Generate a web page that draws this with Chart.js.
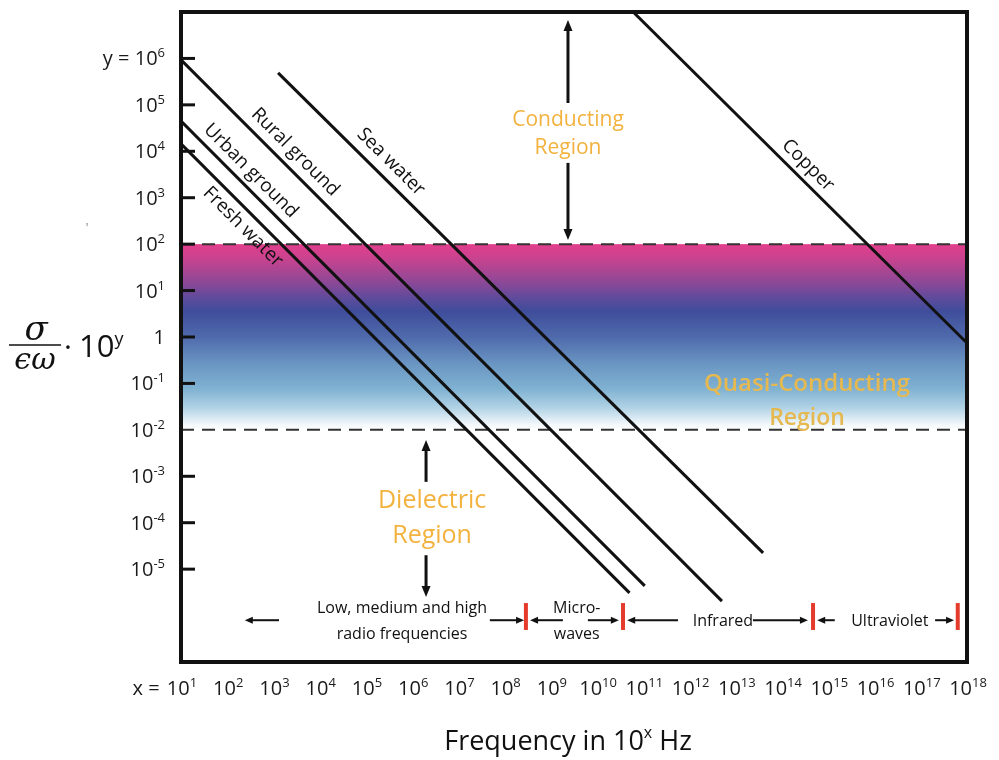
<!DOCTYPE html>
<html>
<head>
<meta charset="utf-8">
<script src="https://cdn.jsdelivr.net/npm/chart.js@4.4.1/dist/chart.umd.min.js"></script>
<style>
  html, body { margin: 0; padding: 0; background: #fff; }
  #wrap { width: 999px; height: 760px; }
</style>
</head>
<body>
<div id="wrap"><canvas id="chart" width="999" height="760"></canvas></div>
<script>
// ===============================
// DATA (exponents: x = log10 f, y = log10 sigma/eps*omega)
// ===============================
const xTickExp = [1, 2, 3, 4, 5, 6, 7, 8, 9, 10, 11, 12, 13, 14, 15, 16, 17, 18];
const yTickExp = [-5, -4, -3, -2, -1, 0, 1, 2, 3, 4, 5, 6];

const seriesNames = ['Copper', 'Sea water', 'Rural ground', 'Urban ground', 'Fresh water'];
const copperX = [10.78, 18];   const copperY = [7.0, -0.13];
const seaX    = [3.10, 13.59]; const seaY    = [5.69, -4.65];
const ruralX  = [1, 12.70];    const ruralY  = [5.97, -5.69];
const urbanX  = [1, 11.03];    const urbanY  = [4.65, -5.36];
const freshX  = [1, 10.70];    const freshY  = [4.16, -5.51];

const boundaryY = [2, -2]; // 10^2 and 10^-2

// ===============================
// STYLE
// ===============================
const FONT = '"Open Sans", "Noto Sans", sans-serif';
const ORANGE = '#f3b23e';
const bandStops = [
  [0, '#e23e8c'], [0.08, '#c8438f'], [0.2, '#8f4896'], [0.3, '#5a4b9c'],
  [0.36, '#3f4d9b'], [0.5, '#4f6aac'], [0.65, '#6b97c3'], [0.78, '#80b2d2'],
  [0.88, '#b0d2e5'], [0.97, '#f2f7fb'], [1, '#ffffff']
];

function pts(xs, ys) { return xs.map((v, i) => ({ x: v, y: ys[i] })); }

// draw text runs [text, font, dy] aligned left/center/right at (x, y baseline)
function runs(ctx, parts, x, y, align) {
  let w = 0;
  parts.forEach(p => { ctx.font = p[1]; w += ctx.measureText(p[0]).width; });
  let cx = align === 'center' ? x - w / 2 : align === 'right' ? x - w : x;
  ctx.textAlign = 'left';
  ctx.textBaseline = 'alphabetic';
  parts.forEach(p => {
    ctx.font = p[1];
    ctx.fillText(p[0], cx, y + (p[2] || 0));
    cx += ctx.measureText(p[0]).width;
  });
  return w;
}

function arrow(ctx, x1, y1, x2, y2, head, half, lw) {
  const ang = Math.atan2(y2 - y1, x2 - x1);
  ctx.lineWidth = lw;
  ctx.beginPath();
  ctx.moveTo(x1, y1);
  ctx.lineTo(x2 - Math.cos(ang) * head * 0.8, y2 - Math.sin(ang) * head * 0.8);
  ctx.stroke();
  ctx.beginPath();
  ctx.moveTo(x2, y2);
  ctx.lineTo(x2 - Math.cos(ang) * head - Math.sin(ang) * half, y2 - Math.sin(ang) * head + Math.cos(ang) * half);
  ctx.lineTo(x2 - Math.cos(ang) * head + Math.sin(ang) * half, y2 - Math.sin(ang) * head - Math.cos(ang) * half);
  ctx.closePath();
  ctx.fill();
}

// ===============================
// DECORATION PLUGIN
// ===============================
const deco = {
  id: 'deco',
  beforeDatasetsDraw(chart) {
    const { ctx, chartArea: a, scales: { y } } = chart;
    const top = y.getPixelForValue(boundaryY[0]);
    const bot = y.getPixelForValue(boundaryY[1]);
    const g = ctx.createLinearGradient(0, top, 0, bot);
    bandStops.forEach(s => g.addColorStop(s[0], s[1]));
    ctx.save();
    ctx.fillStyle = g;
    ctx.fillRect(a.left, top, a.right - a.left, bot - top);
    ctx.restore();
  },
  afterDatasetsDraw(chart) {
    const { ctx, chartArea: a, scales: { x, y } } = chart;
    const X = v => x.getPixelForValue(v);
    const Y = v => y.getPixelForValue(v);
    ctx.save();

    // frame
    ctx.strokeStyle = '#111';
    ctx.lineWidth = 4;
    ctx.strokeRect(a.left, a.top, a.right - a.left, a.bottom - a.top);

    // inner y ticks + labels
    ctx.fillStyle = '#1a1a1a';
    ctx.lineWidth = 3;
    y.ticks.forEach(t => {
      const py = Y(t.value);
      if (t.value !== -2) {
        ctx.beginPath(); ctx.moveTo(a.left, py); ctx.lineTo(a.left + 14, py); ctx.stroke();
      }
      const parts = t.value === 0 ? [['1', '20px ' + FONT]]
        : [['10', '20px ' + FONT], [String(t.value), '13px ' + FONT, -8]];
      const w = runs(ctx, parts, 165, py + 7, 'right');
      if (t.value === 6) runs(ctx, [['y = ', '20px ' + FONT]], 165 - w, py + 7, 'right');
    });

    // x tick labels
    x.ticks.forEach(t => {
      const px = X(t.value);
      const w = runs(ctx, [['10', '20px ' + FONT], [String(t.value), '13px ' + FONT, -8]], px + 1, 695, 'center');
      if (t.value === 1) runs(ctx, [['x = ', '20px ' + FONT]], px + 1 - w / 2 - 2, 695, 'right');
    });

    // axis titles
    ctx.fillStyle = '#111';
    runs(ctx, [['Frequency in 10', '27px ' + FONT], ['x', '16px ' + FONT, -12], [' Hz', '27px ' + FONT]], 568, 750, 'center');
    ctx.font = 'italic 34px "DejaVu Serif", serif';
    ctx.textAlign = 'center';
    ctx.fillText('\u03c3', 36, 340);
    ctx.font = 'italic 30px "DejaVu Serif", serif';
    ctx.fillText('\u03f5\u03c9', 35, 369);
    ctx.lineWidth = 1.5;
    ctx.beginPath(); ctx.moveTo(9, 345); ctx.lineTo(61, 345); ctx.stroke();
    runs(ctx, [['\u00b7', '30px ' + FONT]], 64, 357, 'left');
    runs(ctx, [['10', '31px ' + FONT], ['y', '18px ' + FONT, -12]], 79, 357, 'left');
    ctx.fillStyle = '#777';
    runs(ctx, [["'", '12px ' + FONT]], 87, 232, 'center');

    // region labels
    ctx.fillStyle = ORANGE;
    runs(ctx, [['Conducting', '21px ' + FONT]], X(9.37), Y(4.72) + 8, 'center');
    runs(ctx, [['Region', '21px ' + FONT]], X(9.37), Y(4.11) + 8, 'center');
    runs(ctx, [['Dielectric', '25px ' + FONT]], X(6.43), Y(-3.49) + 9, 'center');
    runs(ctx, [['Region', '25px ' + FONT]], X(6.43), Y(-4.24) + 9, 'center');
    ctx.fillStyle = '#e6b950';
    runs(ctx, [['Quasi-Conducting', '600 24px ' + FONT]], X(14.54), Y(-0.99) + 8, 'center');
    runs(ctx, [['Region', '600 23px ' + FONT]], X(14.54), Y(-1.72) + 8, 'center');

    // region arrows
    ctx.fillStyle = '#111';
    ctx.strokeStyle = '#111';
    arrow(ctx, X(9.37), Y(5.04), X(9.37), Y(6.83), 11, 4.5, 3);
    arrow(ctx, X(9.37), Y(3.75), X(9.37), Y(2.09), 11, 4.5, 3);
    arrow(ctx, X(6.30), Y(-3.12), X(6.30), Y(-2.22), 11, 4.5, 3);
    arrow(ctx, X(6.30), Y(-4.70), X(6.30), Y(-5.60), 11, 4.5, 3);

    // spectrum band
    const r1 = Y(-5.84) + 5, r2 = Y(-6.40) + 5, rm = Y(-6.10);
    ctx.fillStyle = '#111';
    runs(ctx, [['Low, medium and high', '16px ' + FONT]], X(5.78), r1, 'center');
    runs(ctx, [['radio frequencies', '16px ' + FONT]], X(5.78), r2, 'center');
    runs(ctx, [['Micro-', '16px ' + FONT]], X(9.56), r1, 'center');
    runs(ctx, [['waves', '16px ' + FONT]], X(9.56), r2, 'center');
    runs(ctx, [['Infrared', '16px ' + FONT]], X(12.72), rm + 6, 'center');
    runs(ctx, [['Ultraviolet', '16px ' + FONT]], X(16.33), rm + 6, 'center');
    [[3.12, 2.38], [7.68, 8.42], [9.26, 8.55], [9.80, 10.47], [11.75, 10.65],
     [13.37, 14.56], [15.14, 14.76], [17.31, 17.72]].forEach(s => arrow(ctx, X(s[0]), rm, X(s[1]), rm, 8, 3.5, 2));
    ctx.strokeStyle = '#e43b2c';
    ctx.lineWidth = 4;
    [8.46, 10.56, 14.67, 17.80].forEach(v => {
      ctx.beginPath(); ctx.moveTo(X(v), Y(-5.73)); ctx.lineTo(X(v), Y(-6.31)); ctx.stroke();
    });

    // series labels along lines
    const labelPos = [[14.56, 3.70], [5.54, 3.77], [3.47, 3.98], [2.51, 3.58], [2.34, 2.37]];
    chart.data.datasets.slice(0, 5).forEach((ds, i) => {
      const p0 = ds.data[0], p1 = ds.data[1];
      const ang = Math.atan2(Y(p1.y) - Y(p0.y), X(p1.x) - X(p0.x));
      ctx.save();
      ctx.translate(X(labelPos[i][0]), Y(labelPos[i][1]));
      ctx.rotate(ang);
      ctx.fillStyle = '#111';
      ctx.font = '19px ' + FONT;
      ctx.textAlign = 'center';
      ctx.textBaseline = 'middle';
      ctx.fillText(seriesNames[i], 0, 0);
      ctx.restore();
    });
    ctx.restore();
  }
};

// ===============================
// CHART
// ===============================
const solid = (name, xs, ys) => ({
  label: name, data: pts(xs, ys), borderColor: '#111', borderWidth: 3,
  pointRadius: 0, fill: false, tension: 0
});
const dashed = v => ({
  label: 'boundary', data: pts([1, 18], [v, v]), borderColor: '#333', borderWidth: 2,
  borderDash: [13, 8], pointRadius: 0, fill: false
});

new Chart(document.getElementById('chart').getContext('2d'), {
  type: 'line',
  data: {
    datasets: [
      solid(seriesNames[0], copperX, copperY),
      solid(seriesNames[1], seaX, seaY),
      solid(seriesNames[2], ruralX, ruralY),
      solid(seriesNames[3], urbanX, urbanY),
      solid(seriesNames[4], freshX, freshY),
      dashed(boundaryY[0]),
      dashed(boundaryY[1])
    ]
  },
  options: {
    responsive: false,
    animation: false,
    devicePixelRatio: 1,
    layout: { padding: { top: 12, right: 32, left: 0, bottom: 0 } },
    plugins: { legend: { display: false }, tooltip: { enabled: false } },
    scales: {
      x: {
        type: 'linear', min: 1, max: 18,
        grid: { display: false }, border: { display: false }, ticks: { display: false },
        afterBuildTicks: s => { s.ticks = xTickExp.map(v => ({ value: v })); },
        afterFit: s => { s.height = 98; }
      },
      y: {
        type: 'linear', min: -7, max: 7,
        grid: { display: false }, border: { display: false }, ticks: { display: false },
        afterBuildTicks: s => { s.ticks = yTickExp.map(v => ({ value: v })); },
        afterFit: s => { s.width = 181; }
      }
    }
  },
  plugins: [deco]
});
</script>
</body>
</html>
